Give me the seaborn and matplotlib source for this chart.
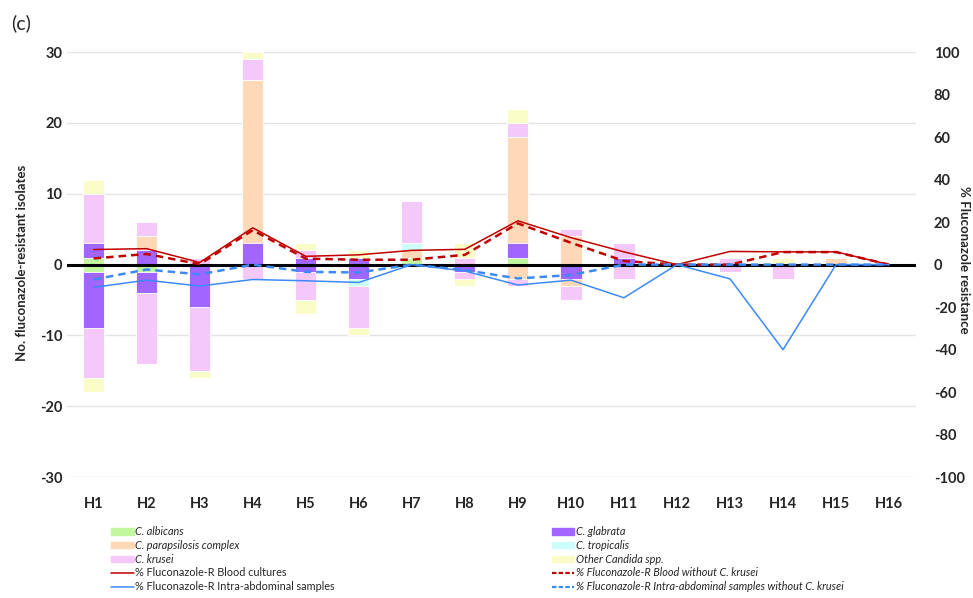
import numpy as np
import pandas as pd
import matplotlib.pyplot as plt
import seaborn as sns
from matplotlib.patches import Patch
from matplotlib.lines import Line2D

# hospitals and species
hospitals = ["H1", "H2", "H3", "H4", "H5", "H6", "H7", "H8",
             "H9", "H10", "H11", "H12", "H13", "H14", "H15", "H16"]
species = ["C. albicans", "C. glabrata", "C. parapsilosis complex",
           "C. tropicalis", "C. krusei", "Other Candida spp."]
species_colors = ["#c2f7a0", "#a066ff", "#ffd8b8", "#ccfcfc", "#f5c8fa", "#fafcc8"]

# fluconazole-resistant isolates, blood cultures (drawn above zero)
blood_albicans = [1, 0, 0, 0, 0, 0, 1, 0, 1, 0, 0, 0, 0, 0, 0, 0]
blood_glabrata = [2, 2, 0, 3, 1, 1, 0, 0, 2, 0, 1, 0, 0, 0, 0, 0]
blood_parapsilosis = [0, 2, 0, 23, 0, 0, 1, 0, 15, 4, 0, 0, 0, 0, 1, 0]
blood_tropicalis = [0, 0, 0, 0, 0, 0, 1, 0, 0, 0, 0, 0, 0, 0, 0, 0]
blood_krusei = [7, 2, 1, 3, 1, 0, 6, 1, 2, 1, 2, 0, 1, 0, 0, 0]
blood_other = [2, 0, 0, 1, 1, 1, 0, 2, 2, 0, 0, 0, 0, 1, 0, 0]

# fluconazole-resistant isolates, intra-abdominal samples (drawn below zero)
intra_albicans = [1, 1, 0, 0, 0, 0, 0, 0, 0, 0, 0, 0, 0, 0, 0, 0]
intra_glabrata = [8, 3, 6, 0, 1, 2, 0, 1, 0, 2, 0, 0, 0, 0, 0, 0]
intra_parapsilosis = [0, 0, 0, 0, 0, 0, 0, 0, 2, 1, 0, 0, 0, 0, 0, 0]
intra_tropicalis = [0, 0, 0, 0, 0, 1, 0, 0, 0, 0, 0, 0, 0, 0, 0, 0]
intra_krusei = [7, 10, 9, 2, 4, 6, 0, 1, 1, 2, 2, 0, 1, 2, 0, 0]
intra_other = [2, 0, 1, 0, 2, 1, 0, 1, 0, 0, 0, 0, 0, 0, 0, 0]

# % fluconazole resistance (intra-abdominal shown as negative)
pct_blood = [7.1, 7.5, 1.0, 17.3, 3.9, 4.6, 6.7, 7.2, 20.6, 12.7, 6.0, 0, 6.2, 6.0, 6.0, 0]
pct_blood_no_krusei = [2.9, 5.0, 0.2, 16.2, 2.8, 2.3, 2.3, 4.6, 19.4, 10.3, 1.7, 0, 0, 5.9, 5.9, 0]
pct_intra = [-10.7, -7.3, -10.1, -7.0, -7.6, -8.4, 0, -3.0, -9.6, -7.3, -15.6, 0, -6.7, -40.0, 0, 0]
pct_intra_no_krusei = [-7.0, -2.3, -4.6, 0, -3.4, -3.7, 0, -2.6, -6.5, -4.9, 0, 0, 0, 0, 0, 0]

blood = np.array([blood_albicans, blood_glabrata, blood_parapsilosis,
                  blood_tropicalis, blood_krusei, blood_other])
intra = np.array([intra_albicans, intra_glabrata, intra_parapsilosis,
                  intra_tropicalis, intra_krusei, intra_other])

sns.set_theme(style="white")
plt.rcParams["font.family"] = ["Lato", "DejaVu Sans"]
plt.rcParams["axes.unicode_minus"] = False

fig = plt.figure(figsize=(9.73, 5.98), dpi=100)
ax = fig.add_axes([0.069, 0.202, 0.872, 0.711])

# stacked bars: draw cumulative totals from the top layer down
blood_cum = blood.cumsum(axis=0)
intra_cum = -intra.cumsum(axis=0)
for i in range(len(species) - 1, -1, -1):
    for cum in (blood_cum, intra_cum):
        sns.barplot(x=hospitals, y=cum[i], order=hospitals, color=species_colors[i],
                    saturation=1, width=0.4, edgecolor="white", linewidth=0.6,
                    errorbar=None, ax=ax)

ax.axhline(0, color="black", lw=2.2, zorder=3)
ax.set_ylim(-30, 30)
ax.set_yticks(range(-30, 31, 10))
ax.yaxis.grid(True, color="#e4e4e4", lw=1)
ax.set_axisbelow(True)
ax.set_xlabel("")
ax.set_ylabel("")
ax.tick_params(axis="both", length=0, labelsize=10.5)
ax.tick_params(axis="x", pad=14)
for lab in ax.get_xticklabels() + ax.get_yticklabels():
    lab.set_fontweight("bold")
for s in ax.spines.values():
    s.set_visible(False)

# percentage lines on the secondary axis
ax2 = ax.twinx()
pos = np.arange(len(hospitals))
sns.lineplot(x=pos, y=pct_blood, color="#c00000", lw=1.1, ax=ax2)
sns.lineplot(x=pos, y=pct_blood_no_krusei, color="#c00000", lw=1.8, ax=ax2,
             linestyle=(0, (3, 2)))
sns.lineplot(x=pos, y=pct_intra, color="#3d8af7", lw=1.1, ax=ax2)
sns.lineplot(x=pos, y=pct_intra_no_krusei, color="#3d8af7", lw=1.8, ax=ax2,
             linestyle=(0, (3, 2)))
ax2.set_ylim(-100, 100)
ax2.set_yticks(range(-100, 101, 20))
ax2.grid(False)
ax2.tick_params(axis="y", length=0, labelsize=10.5, pad=13)
for lab in ax2.get_yticklabels():
    lab.set_fontweight("bold")
ax2.set_ylabel("")
for s in ax2.spines.values():
    s.set_visible(False)
ax.set_xlim(-0.5, len(hospitals) - 0.5)

# axis titles and panel letter
fig.text(0.023, 0.56, "No. fluconazole-resistant isolates", fontsize=9.5,
         fontweight="bold", rotation=90, ha="center", va="center")
fig.text(0.991, 0.565, "% Fluconazole resistance", fontsize=9.5,
         fontweight="bold", rotation=270, ha="center", va="center")
fig.text(0.011, 0.962, "(c)", fontsize=14, va="center")

# legend in two columns
left_handles = [Patch(color=species_colors[0]), Patch(color=species_colors[2]),
                Patch(color=species_colors[4]),
                Line2D([], [], color="#c00000", lw=1.1),
                Line2D([], [], color="#3d8af7", lw=1.1)]
left_labels = [species[0], species[2], species[4],
               "% Fluconazole-R Blood cultures",
               "% Fluconazole-R Intra-abdominal samples"]
right_handles = [Patch(color=species_colors[1]), Patch(color=species_colors[3]),
                 Patch(color=species_colors[5]),
                 Line2D([], [], color="#c00000", lw=1.6, linestyle=(0, (2, 1))),
                 Line2D([], [], color="#3d8af7", lw=1.6, linestyle=(0, (2, 1)))]
right_labels = [species[1], species[3], species[5],
                "% Fluconazole-R Blood without C. krusei",
                "% Fluconazole-R Intra-abdominal samples without C. krusei"]
leg_kw = dict(frameon=False, fontsize=7.8, handlelength=2.1, handleheight=0.55,
              handletextpad=0.1, labelspacing=0.25, borderpad=0, borderaxespad=0)
leg1 = fig.legend(left_handles, left_labels, loc="upper left",
                  bbox_to_anchor=(0.114, 0.12), **leg_kw)
leg2 = fig.legend(right_handles, right_labels, loc="upper left",
                  bbox_to_anchor=(0.567, 0.12), **leg_kw)
for t in leg1.get_texts()[:3]:
    t.set_fontstyle("italic")
for t in leg2.get_texts():
    t.set_fontstyle("italic")

fig.savefig("out.png", dpi=100)
